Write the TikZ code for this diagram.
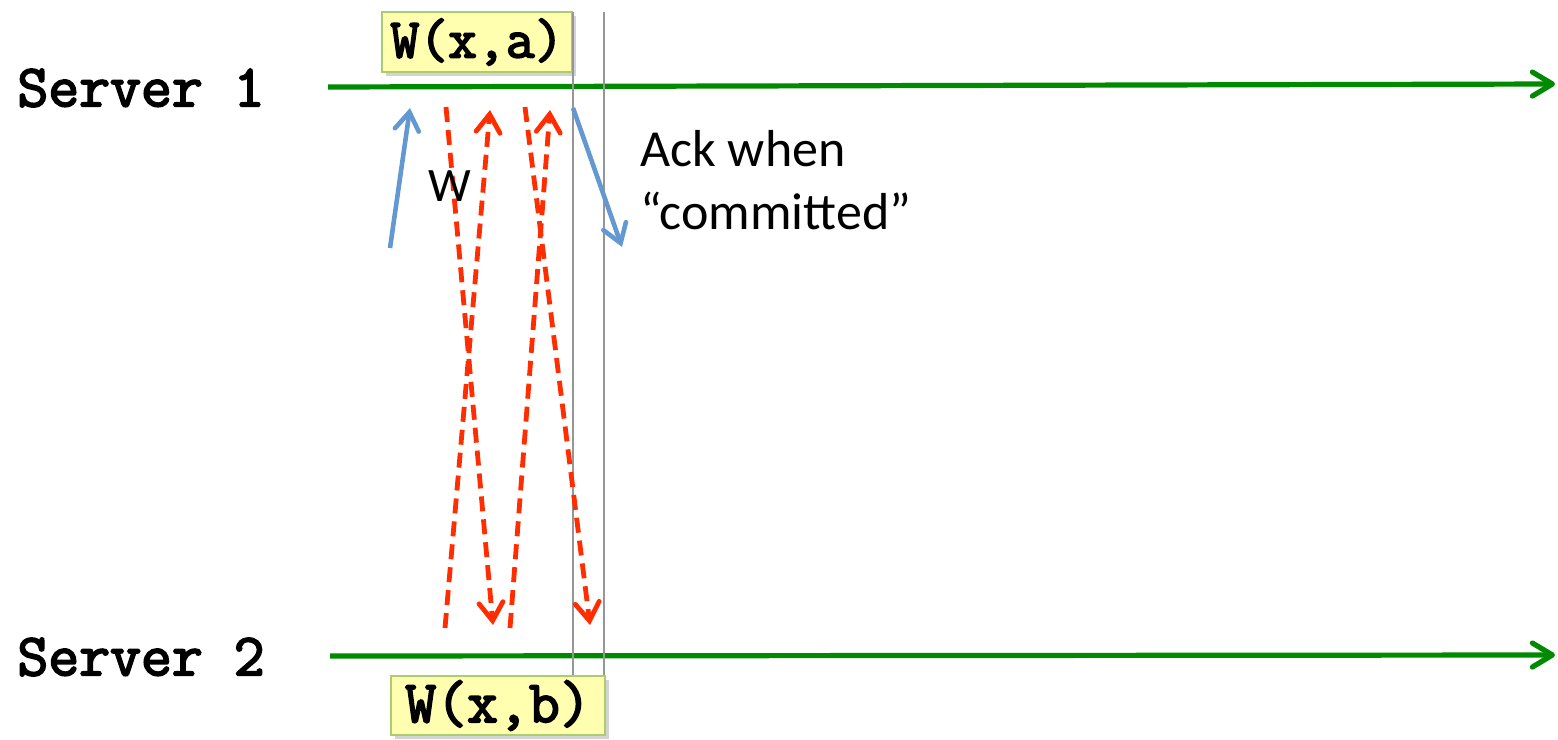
\documentclass[tikz,border=0pt]{standalone}
\usepackage{fontspec}
\setmainfont{Carlito}
\newfontfamily\srvfont{Latin Modern Mono}[FakeBold=3]
\usetikzlibrary{arrows.meta,shadows}
\definecolor{lgreen}{RGB}{0,138,0}
\definecolor{boxfill}{RGB}{255,255,175}
\definecolor{boxedge}{RGB}{172,204,112}
\definecolor{ablue}{RGB}{100,152,208}
\definecolor{ared}{RGB}{255,45,0}
\definecolor{vgray}{RGB}{150,150,150}
\tikzset{
  timeline/.style={draw=lgreen, line width=2.6pt, -{Straight Barb[length=10pt,width=12pt,line cap=round,line join=round]}},
  bluearrow/.style={draw=ablue, line width=2.3pt, -{Straight Barb[length=9pt,width=12pt,line cap=round]}},
  redarrow/.style={draw=ared, line width=2.4pt, dash pattern=on 7.5pt off 4pt, -{Straight Barb[length=9pt,width=12pt,line cap=round]}},
  grayline/.style={draw=vgray, line width=1.3pt},
  opbox/.style={draw=boxedge, fill=boxfill, line width=1pt, inner sep=0pt,
    drop shadow={shadow xshift=2pt, shadow yshift=-2pt, opacity=0.35}},
  srvlabel/.style={anchor=west, inner sep=0pt, font=\srvfont\fontsize{30}{33}\selectfont},
  sanslabel/.style={anchor=west, inner sep=0pt, font=\fontsize{26}{30}\selectfont}
}
\begin{document}
\begin{tikzpicture}[x=0.5pt,y=-0.5pt]
\useasboundingbox (0,0) rectangle (1558,739);
% server labels
\node[srvlabel] (s1) at (17,88) {Server 1};
\node[srvlabel] (s2) at (17,657) {Server 2};
% timelines
\coordinate (t1a) at (328,87);
\coordinate (t1b) at (1555,84);
\coordinate (t2a) at (330,656);
\coordinate (t2b) at (1555,655);
\draw[timeline] (t1a) -- (t1b);
\draw[timeline] (t2a) -- (t2b);
% top box
\node[opbox, minimum width=95pt, minimum height=30pt, font=\srvfont\fontsize{28}{31}\selectfont] (wa) at (477,42) {W(x,a)};
% gray vertical lines
\coordinate (g1a) at (573,12);
\coordinate (g1b) at (573,676);
\coordinate (g2a) at (604,12);
\coordinate (g2b) at (604,676);
\draw[grayline] (g1a) -- (g1b);
\draw[grayline] (g2a) -- (g2b);
% bottom box
\node[opbox, minimum width=107pt, minimum height=29.5pt, font=\srvfont\fontsize{30}{33}\selectfont] (wb) at (498,705.5) {W(x,b)};
% blue arrows
\coordinate (b1a) at (390,248);
\coordinate (b1b) at (410,108);
\coordinate (b2a) at (573,108);
\coordinate (b2b) at (622,247);
\draw[bluearrow] (b1a) -- (b1b);
\draw[bluearrow] (b2a) -- (b2b);
% red dashed arrows
\coordinate (r1a) at (446,107);
\coordinate (r1b) at (493,625);
\coordinate (r2a) at (445,628);
\coordinate (r2b) at (490,110);
\coordinate (r3a) at (525,107);
\coordinate (r3b) at (590,625);
\coordinate (r4a) at (510,628);
\coordinate (r4b) at (550,110);
\draw[redarrow] (r1a) -- (r1b);
\draw[redarrow] (r2a) -- (r2b);
\draw[redarrow] (r3a) -- (r3b);
\draw[redarrow] (r4a) -- (r4b);
% labels
\node[sanslabel, anchor=center, font=\fontsize{24}{28}\selectfont] (wl) at (450,186) {W};
\node[sanslabel] (ack1) at (640,149) {Ack when};
\node[sanslabel] (ack2) at (640,211) {“committed”};
\end{tikzpicture}
\end{document}
